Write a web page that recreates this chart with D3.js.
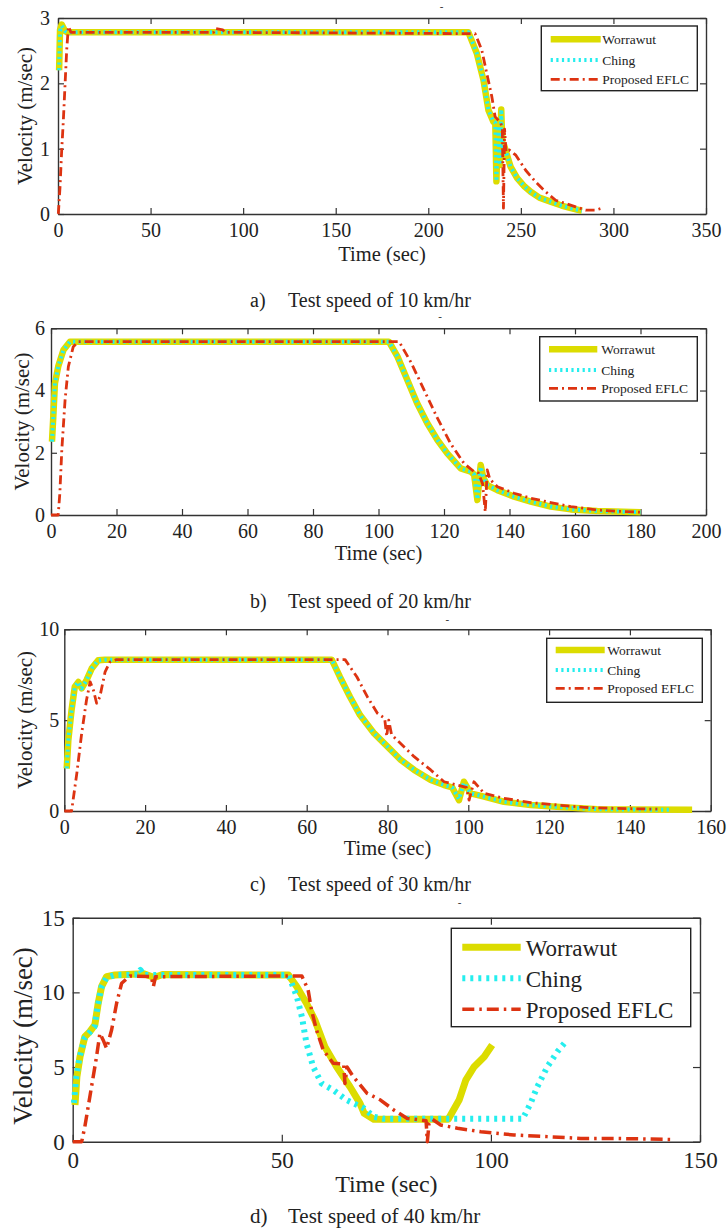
<!DOCTYPE html>
<html>
<head>
<meta charset="utf-8">
<script src="https://cdn.jsdelivr.net/npm/d3@7"></script>
<style>
  html, body { margin: 0; padding: 0; background: #fff; }
  svg { display: block; }
  text { font-family: "Liberation Serif", "Times New Roman", serif; fill: #222; }
</style>
</head>
<body>
<svg id="chart" width="728" height="1229"></svg>
<script>
// ---- series and labels ----
const seriesNames = ["Worrawut", "Ching", "Proposed EFLC"];
const captionTags = ["a)", "b)", "c)", "d)"];
const captionTexts = ["Test speed of 10 km/hr", "Test speed of 20 km/hr", "Test speed of 30 km/hr", "Test speed of 40 km/hr"];
const xLabel = "Time (sec)";
const yLabel = "Velocity (m/sec)";

// 10 km/hr run: [time (sec), velocity (m/sec)]
const xTicksA = [0, 50, 100, 150, 200, 250, 300, 350];
const yTicksA = [0, 1, 2, 3];
const worrawutA = [[0.6,2.2],[1.1,2.82],[2,2.9],[3.8,2.8],[5,2.78],[221.7,2.78],[226.2,2.46],[229.8,2.05],[232.5,1.59],[235.2,1.41],[236.2,1.4],[236.8,0.5],[237.6,1.35],[238.6,0.75],[239.4,1.6],[240.2,0.9],[241,1.05],[242,0.95],[244.5,0.72],[248,0.55],[252,0.42],[255.3,0.34],[260,0.25],[266,0.19],[272,0.13],[277,0.09],[283,0.05]];
const chingA = [[0.6,2.2],[1.1,2.8],[2,2.88],[3.8,2.8],[5,2.78],[221.7,2.78],[226.2,2.46],[229.8,2.05],[232.5,1.59],[235.2,1.41],[236.2,1.4],[236.8,0.5],[237.6,1.35],[238.6,0.75],[239.4,1.6],[240.2,0.9],[241,1.05],[242,0.95],[244.5,0.72],[248,0.55],[252,0.42],[255.3,0.34],[260,0.25],[266,0.19],[272,0.13],[277,0.09],[283,0.05]];
const eflcA = [[0,0],[0.2,0.01],[1.1,0.42],[2,0.98],[2.9,1.44],[4.7,2.51],[5.6,2.87],[7,2.78],[84,2.78],[85,2.84],[89,2.82],[90,2.78],[225.3,2.76],[228.9,2.51],[231.6,2.15],[234.3,1.8],[236.1,1.49],[239.2,1.39],[240,1.3],[240.6,0.09],[241.2,1.3],[242,0.95],[243.7,0.98],[247.3,0.9],[252.6,0.67],[258,0.49],[263.4,0.34],[268.8,0.21],[274.2,0.16],[279.6,0.11],[285,0.06],[290.4,0.06],[294,0.09]];

// 20 km/hr run
const xTicksB = [0, 20, 40, 60, 80, 100, 120, 140, 160, 180, 200];
const yTicksB = [0, 2, 4, 6];
const worrawutB = [[0.3,2.36],[0.7,3.16],[1.2,4.23],[2.2,4.77],[3.8,5.3],[5.8,5.57],[103.2,5.57],[105.8,5.09],[108.8,4.34],[111.8,3.59],[114.9,2.95],[118,2.41],[121,1.98],[125.1,1.5],[128.2,1.39],[129.2,1.3],[130.2,0.48],[131.2,1.61],[132,1.2],[133.2,0.96],[136.3,0.8],[141.4,0.59],[146.5,0.43],[152.6,0.27],[158.7,0.18],[166.8,0.13],[180,0.09]];
const chingB = [[0.3,2.36],[0.7,3.16],[1.2,4.23],[2.2,4.77],[3.8,5.3],[5.8,5.57],[103.2,5.57],[105.8,5.09],[108.8,4.34],[111.8,3.59],[114.9,2.95],[118,2.41],[121,1.98],[125.1,1.5],[128.2,1.39],[129.2,1.3],[130.2,0.5],[131.2,1.55],[132,1.2],[133.2,0.96],[136.3,0.8],[141.4,0.59],[146.5,0.43],[152.6,0.27],[158.7,0.18],[166.8,0.13],[180,0.09]];
const eflcB = [[0,0],[2.2,0],[2.7,0.7],[3.3,2.09],[4.3,3.7],[5.3,4.77],[6.8,5.41],[8.3,5.57],[106.3,5.57],[109.8,4.93],[113.9,4.02],[118,3.11],[122,2.3],[126.1,1.66],[129.2,1.39],[130.5,1.35],[131.8,1.0],[132.6,0.1],[133.2,1.45],[134,1.15],[136.3,0.91],[141.4,0.7],[146.5,0.54],[152.6,0.4],[158.7,0.27],[166.8,0.16],[175,0.11],[180,0.09]];

// 30 km/hr run
const xTicksC = [0, 20, 40, 60, 80, 100, 120, 140, 160];
const yTicksC = [0, 5, 10];
const worrawutC = [[0.6,2.34],[1,3.9],[1.8,5.56],[2.6,6.84],[3.5,7.1],[4.3,6.75],[5.5,7.2],[6.8,7.85],[8.4,8.3],[10,8.33],[66.2,8.33],[68.2,7.39],[70.7,6.29],[73.2,5.28],[76.7,4.27],[80,3.54],[83.3,2.81],[86.6,2.26],[90.7,1.71],[94,1.43],[96,1.3],[97.7,0.6],[98.9,1.61],[100.6,0.97],[103.9,0.79],[108.8,0.51],[115.4,0.33],[123.7,0.2],[131.9,0.1],[140.2,0.08],[155.4,0.07]];
const chingC = [[0.6,2.34],[1,3.9],[1.8,5.56],[2.6,6.84],[3.5,7.1],[4.3,6.75],[5.5,7.2],[6.8,7.85],[8.4,8.3],[10,8.33],[66.2,8.33],[68.2,7.39],[70.7,6.29],[73.2,5.28],[76.7,4.27],[80,3.54],[83.3,2.81],[86.6,2.26],[90.7,1.71],[94,1.43],[96,1.3],[97.7,0.65],[98.9,1.55],[100.6,0.97],[103.9,0.79],[108.8,0.51],[115.4,0.33],[123.7,0.2],[131.9,0.1],[140.2,0.08],[150,0.07]];
const eflcC = [[0,0],[1.8,0],[3.1,2.07],[4.3,4.27],[5.5,6.11],[6.4,7.11],[7.2,6.66],[8,5.93],[8.8,6.28],[10.1,7.66],[11.3,8.2],[12.9,8.33],[69.5,8.33],[72.4,7.39],[75,6.29],[77.5,5.38],[79.3,5.1],[79.8,4.1],[80.3,5.0],[81,4.2],[82.4,3.9],[86.6,2.99],[90.7,2.26],[94,1.61],[97.3,1.43],[99.5,1.3],[100.2,0.6],[101.4,1.61],[103.9,0.97],[108.8,0.7],[115.4,0.46],[122,0.33],[128.6,0.2],[136.9,0.14],[146.8,0.1]];

// 40 km/hr run
const xTicksD = [0, 50, 100, 150];
const yTicksD = [0, 5, 10, 15];
const worrawutD = [[0.55,2.46],[1,4.35],[1.75,5.69],[2.9,7.03],[4.1,7.37],[5.3,7.82],[6.1,9.27],[6.9,10.38],[8.1,11.05],[10.1,11.16],[17,11.25],[19.5,11.0],[21.5,11.2],[51.6,11.16],[53.6,10.38],[55.9,9.27],[57.9,8.15],[60.3,6.36],[63.1,5.02],[66.3,3.68],[68.7,2.57],[69.7,1.9],[72,1.5],[89.8,1.5],[92.4,2.79],[94,4.13],[96,5.02],[98.4,5.69],[100.3,6.48]];
const chingD = [[0.3,2.6],[0.8,4.2],[1.6,5.6],[2.8,6.9],[4,7.3],[5.2,7.7],[6,9.1],[6.8,10.3],[8,10.95],[10,11.16],[15.5,11.2],[16.2,11.5],[17,11.16],[51.6,11.16],[53.6,9.71],[54.8,8.37],[55.9,6.59],[57.5,5.02],[59.5,3.91],[62.3,3.46],[65.5,2.79],[69.7,2.23],[72,1.67],[74.4,1.53],[107.6,1.53],[109.5,2.57],[111.1,3.68],[113.5,5.02],[115.9,6.03],[117.9,6.7]];
const eflcD = [[0,0],[2.15,0],[2.9,1.0],[4.5,3.68],[5.7,5.69],[6.5,7.26],[7.3,6.8],[8.1,6.25],[9.3,7.48],[10.5,9.27],[11.7,10.61],[13.7,11.1],[18.8,11.05],[19.3,10.4],[19.8,11.05],[54.8,11.1],[56.3,10.16],[57.1,8.82],[58.3,7.48],[59.9,6.14],[62.3,5.25],[64.8,5.2],[65.1,3.9],[65.6,5.0],[67.1,4.35],[70.4,3.24],[73.6,2.79],[76.8,2.12],[80,1.56],[83.2,1.45],[84.5,1.4],[84.8,0],[85.2,1.2],[86,1.5],[88,1.12],[92,0.9],[97.6,0.67],[105.5,0.45],[113.5,0.34],[121.5,0.22],[129.4,0.22],[143,0.15]];

// ---- layout of the four panels ----
const panels = [
  { box: [58, 18, 706, 214], xMax: 350, yMax: 3, xTicks: xTicksA, yTicks: yTicksA,
    data: [worrawutA, chingA, eflcA], big: false, yPad: 8, yLabX: 32, yLabY: 116,
    xLabY: 261, capY: 307, mark: [441.7, 9.5],
    legend: { box: [541.3, 26, 697.3, 90.7], rows: [39.3, 60, 79.3], line: [550.7, 600.7], textX: 602.3 } },
  { box: [51, 328.3, 706, 515], xMax: 200, yMax: 6, xTicks: xTicksB, yTicks: yTicksB,
    data: [worrawutB, chingB, eflcB], big: false, yPad: 6, yLabX: 28.5, yLabY: 421.5,
    xLabY: 560, capY: 608, mark: [440, 319.5],
    legend: { box: [539.7, 336.7, 697.3, 401], rows: [349.3, 370, 388.3], line: [549, 597.3], textX: 601.3 } },
  { box: [64.3, 629.3, 710.7, 811], xMax: 160, yMax: 10, xTicks: xTicksC, yTicks: yTicksC,
    data: [worrawutC, chingC, eflcC], big: false, yPad: 5, yLabX: 31.7, yLabY: 720,
    xLabY: 855, capY: 891, mark: [447.3, 622.8],
    legend: { box: [546.7, 638.3, 702.3, 702.3], rows: [650, 670, 688.3], line: [555.7, 604.7], textX: 607.3 } },
  { box: [72.7, 917.7, 700, 1141.7], xMax: 150, yMax: 15, xTicks: xTicksD, yTicks: yTicksD,
    data: [worrawutD, chingD, eflcD], big: true, yPad: 8, yLabX: 31.7, yLabY: 1036,
    xLabY: 1192, capY: 1223, mark: [459.7, 906],
    legend: { box: [451.3, 928.3, 690.7, 1026.7], rows: [947.3, 978.3, 1009.3], line: [462.3, 520.7], textX: 525.7 } }
];

const colors = ["#dcdc00", "#25eeee", "#dd3311"];
const axisColor = "#333";
const fmt = d3.format("~g");

function styleFor(i, big) {
  if (i === 0) return { width: big ? 7 : 6.5, dash: null };
  if (i === 1) return { width: big ? 6 : 4, dash: big ? "3,5" : "2.2,3.4" };
  return { width: big ? 3.5 : 2.8, dash: big ? "12,5,2.5,5" : "9,4,2,4" };
}

const svg = d3.select("#chart");
svg.append("rect").attr("width", 728).attr("height", 1229).attr("fill", "#fff");

panels.forEach((p, k) => {
  const [x0, y0, x1, y1] = p.box;
  const x = d3.scaleLinear().domain([0, p.xMax]).range([x0, x1]);
  const y = d3.scaleLinear().domain([0, p.yMax]).range([y1, y0]);
  const tickFont = p.big ? 23 : 20;
  const tickLen = p.big ? 7 : 6;
  const g = svg.append("g");

  // axes: labelled bottom/left, mirrored ticks on top/right, all pointing inward
  const ax = [
    g.append("g").attr("transform", `translate(0,${y1})`)
      .call(d3.axisBottom(x).tickValues(p.xTicks).tickFormat(fmt).tickSize(-tickLen).tickSizeOuter(0).tickPadding(p.big ? 10 : 9)),
    g.append("g").attr("transform", `translate(${x0},0)`)
      .call(d3.axisLeft(y).tickValues(p.yTicks).tickFormat(fmt).tickSize(-tickLen).tickSizeOuter(0).tickPadding(p.yPad)),
    g.append("g").attr("transform", `translate(0,${y0})`)
      .call(d3.axisTop(x).tickValues(p.xTicks).tickSize(-tickLen).tickSizeOuter(0).tickFormat("")),
    g.append("g").attr("transform", `translate(${x1},0)`)
      .call(d3.axisRight(y).tickValues(p.yTicks).tickSize(-tickLen).tickSizeOuter(0).tickFormat(""))
  ];
  ax.forEach(a => {
    a.attr("font-family", null);
    a.selectAll("path.domain").attr("stroke", axisColor).attr("stroke-width", 1.4);
    a.selectAll(".tick line").attr("stroke", axisColor).attr("stroke-width", 1.2);
    a.selectAll(".tick text")
      .style("font-family", '"Liberation Serif", serif')
      .style("font-size", tickFont + "px").attr("fill", "#222");
  });

  // velocity traces
  const line = d3.line().x(d => x(d[0])).y(d => y(d[1]));
  p.data.forEach((series, i) => {
    const st = styleFor(i, p.big);
    g.append("path").datum(series)
      .attr("d", line)
      .attr("fill", "none")
      .attr("stroke", colors[i])
      .attr("stroke-width", st.width)
      .attr("stroke-linejoin", "round")
      .attr("stroke-dasharray", st.dash);
  });

  // legend
  const L = p.legend;
  const lg = g.append("g");
  lg.append("rect")
    .attr("x", L.box[0]).attr("y", L.box[1])
    .attr("width", L.box[2] - L.box[0]).attr("height", L.box[3] - L.box[1])
    .attr("fill", "#fff").attr("stroke", "#222").attr("stroke-width", 1.4);
  seriesNames.forEach((name, i) => {
    const st = styleFor(i, p.big);
    lg.append("line")
      .attr("x1", L.line[0]).attr("x2", L.line[1])
      .attr("y1", L.rows[i]).attr("y2", L.rows[i])
      .attr("stroke", colors[i]).attr("stroke-width", st.width)
      .attr("stroke-dasharray", st.dash);
    lg.append("text")
      .attr("x", L.textX).attr("y", L.rows[i]).attr("dy", "0.36em")
      .style("font-size", (p.big ? 23 : 13.5) + "px")
      .text(name);
  });

  // axis titles
  g.append("text")
    .attr("x", (x0 + x1) / 2).attr("y", p.xLabY)
    .attr("text-anchor", "middle")
    .style("font-size", (p.big ? 24 : 20.5) + "px")
    .text(xLabel);
  g.append("text")
    .attr("transform", `translate(${p.yLabX},${p.yLabY}) rotate(-90)`)
    .attr("text-anchor", "middle")
    .style("font-size", (p.big ? 27 : 21) + "px")
    .text(yLabel);

  // empty title placeholder
  g.append("text")
    .attr("x", p.mark[0]).attr("y", p.mark[1])
    .attr("text-anchor", "middle")
    .style("font-size", "11px")
    .text("-");

  // caption under the panel
  g.append("text").attr("x", 250).attr("y", p.capY)
    .style("font-size", (p.big ? 21 : 20) + "px").text(captionTags[k]);
  g.append("text").attr("x", 288).attr("y", p.capY)
    .style("font-size", (p.big ? 21 : 20) + "px").text(captionTexts[k]);
});
</script>
</body>
</html>
